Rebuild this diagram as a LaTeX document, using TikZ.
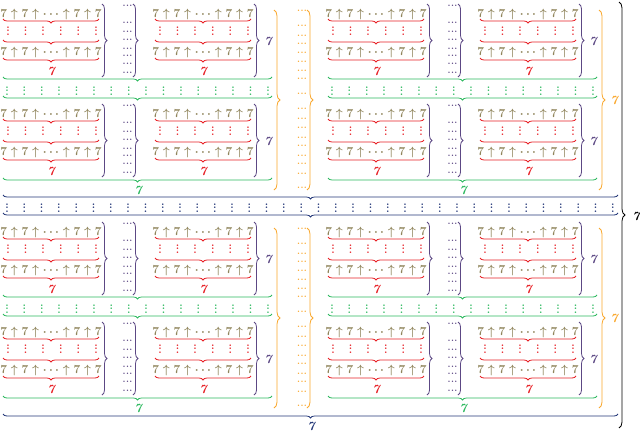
\documentclass[tikz,border=0pt]{standalone}
\usetikzlibrary{decorations.pathreplacing}
\definecolor{olv}{RGB}{143,132,90}
\definecolor{rd}{RGB}{232,32,38}
\definecolor{pu}{RGB}{92,72,132}
\definecolor{gn}{RGB}{45,185,95}
\definecolor{orng}{RGB}{250,168,45}
\definecolor{nv}{RGB}{35,55,120}
\newcommand\myvdots{\vbox{\baselineskip3.6pt\lineskiplimit0pt\hbox{.}\hbox{.}\hbox{.}}}
\newcommand\myhdots{.\kern0.4pt.\kern0.4pt.}
\tikzset{
  brc/.style={decorate, decoration={brace, amplitude=#1}, line width=0.8pt},
  brc/.default=4,
  rowtxt/.style={text=olv, font=\fontsize{12.3}{14}\selectfont\boldmath, anchor=base, inner sep=0pt},
  lbl/.style={font=\fontsize{12.5}{14}\selectfont\bfseries\itshape, anchor=base, inner sep=0pt},
  vdt/.style={font=\fontsize{11}{12}\selectfont\bfseries, anchor=base, inner sep=0pt},
  hdt/.style={font=\fontsize{9}{10}\selectfont\bfseries, anchor=base, inner sep=0pt},
  unitA/.pic={
    \node[rowtxt] (-r1) at (48,17) {$7\uparrow7\uparrow\cdots\uparrow7\uparrow7$};
    \draw[brc, rd] (96,19) -- (0,19);
    \foreach \k in {0,...,5} \node[vdt, text=rd] (-d\k) at ({5+17.6*\k},35.5) {\myvdots};
    \draw[brc, rd] (96,40) -- (0,40);
    \node[rowtxt] (-r2) at (48,55) {$7\uparrow7\uparrow\cdots\uparrow7\uparrow7$};
    \draw[brc, rd] (96,58) -- (0,58);
    \node[lbl, text=rd] (-n) at (48,75) {7};
  },
  purpleG/.pic={
    \pic (-a) at (0,0) {unitA};
    \draw[brc=5, pu] (99,4) -- (99,77);
    \foreach \yy [count=\k] in {5,22,31,39,48,55,63,72}
      \node[hdt, text=pu] (-c\k) at (124.5,\yy+1) {\myhdots};
    \draw[brc=5, pu] (130,4) -- (130,77);
    \pic (-b) at (152,0) {unitA};
    \draw[brc=5, pu] (251,4) -- (251,77);
    \node[lbl, text=pu] (-n) at (265,45) {7};
  },
  greenG/.pic={
    \pic (-p) at (0,0) {purpleG};
    \draw[brc, gn] (269,77) -- (0,77);
    \foreach \k in {0,...,15} \node[vdt, text=gn] (-d\k) at ({4+17.4*\k},95.5) {\myvdots};
    \draw[brc, gn] (269,96) -- (0,96);
    \pic (-q) at (0,100) {purpleG};
    \draw[brc, gn] (269,178) -- (0,178);
    \node[lbl, text=gn] (-n) at (135,194) {7};
  },
  halfG/.pic={
    \pic (-g) at (0,0) {greenG};
    \draw[brc=6, orng] (271,10) -- (271,190);
    \foreach \yy [count=\k] in {10,25,35,43,52,61,70,78,93,108,118,127,137,145,155,163,173,187}
      \node[hdt, text=orng] (-c\k) at (299,\yy+1) {\myhdots};
    \draw[brc=6, orng] (304,10) -- (304,190);
    \pic (-h) at (325,0) {greenG};
    \draw[brc=6, orng] (596,10) -- (596,190);
    \node[lbl, text=orng] (-n) at (611,104) {7};
  }
}
\begin{document}
\begin{tikzpicture}[x=1pt, y=-1pt]
  \useasboundingbox (0,0) rectangle (640,434);
  \fill[white] (0,0) rectangle (640,434);
  \pic (T) at (3,0) {halfG};
  \draw[brc, nv] (618,195) -- (3,195);
  \foreach \k in {0,...,35} \node[vdt, text=nv] (nd\k) at ({7+17.31*\k},212.5) {\myvdots};
  \draw[brc, nv] (618,213) -- (3,213);
  \pic (B) at (3,218) {halfG};
  \draw[brc, nv] (618,414) -- (3,414);
  \node[lbl, text=nv] (n7) at (311,430) {7};
  \draw[brc=6, black] (619,2) -- (619,428);
  \node[lbl, text=black] (k7) at (636,220) {7};
\end{tikzpicture}
\end{document}
